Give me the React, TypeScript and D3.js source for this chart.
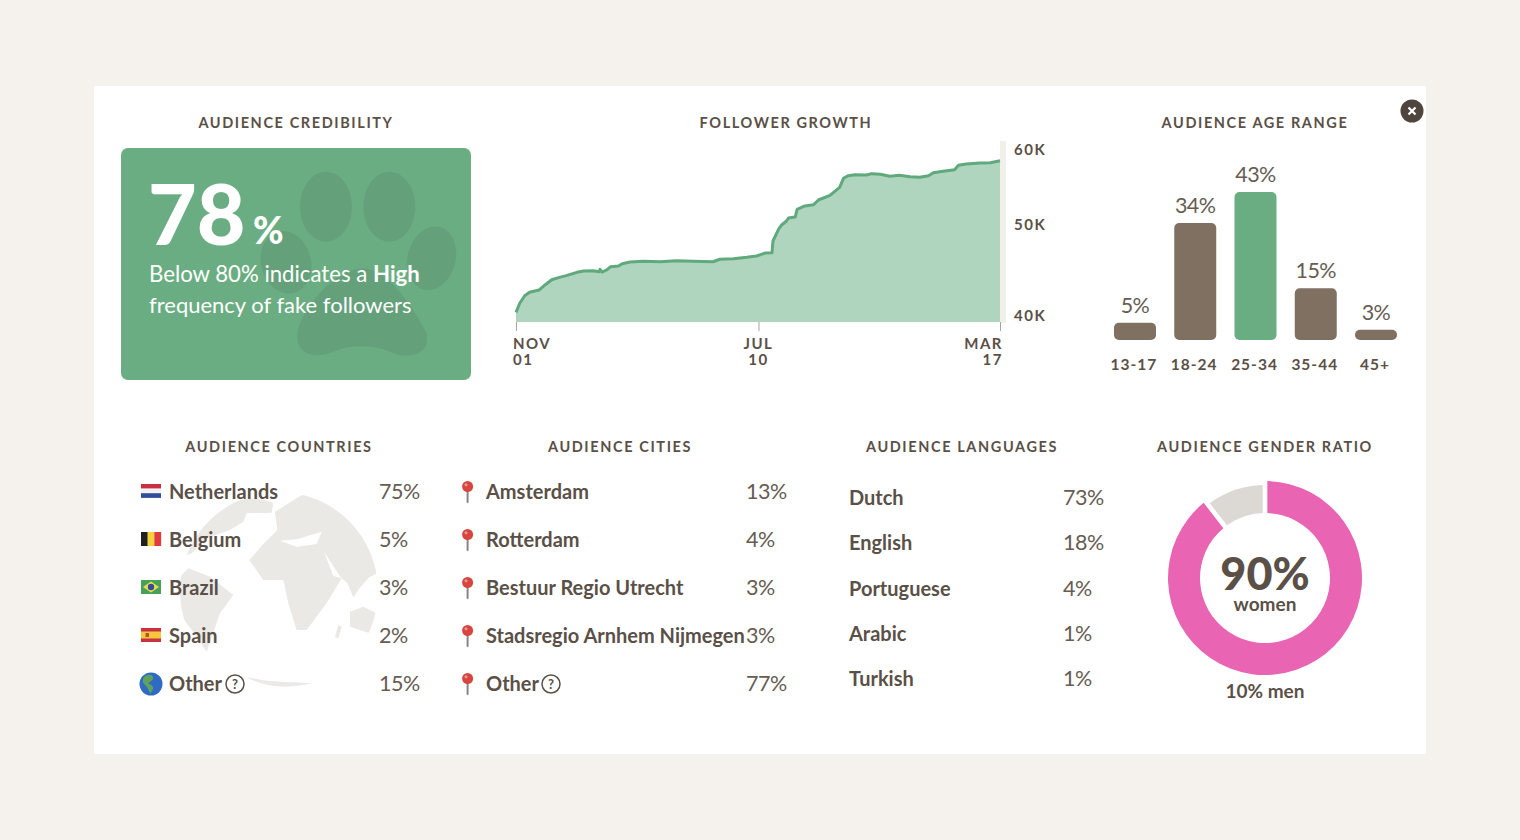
import { useEffect, useRef } from 'react';
import * as d3 from 'd3';

const FONT = 'Lato, "Open Sans", sans-serif';
const INK = '#5a5047';
const GREEN = '#6bad82';
const TAUPE = '#7f7061';
const PINK = '#e964b2';

// follower growth, days since Nov 01 / followers
const growthDays = [0, 4, 9, 14, 24, 30, 37, 44, 52, 63, 70, 80, 86, 87, 89, 94, 98, 106, 110, 118, 132, 149, 166, 184, 204, 211, 225, 239, 249, 258, 265, 266, 272, 275, 280, 282, 289, 291, 299, 308, 313, 325, 335, 339, 344, 351, 363, 368, 377, 387, 397, 408, 418, 427, 432, 442, 454, 458, 466, 480, 491, 501];
const growthValues = [41070, 42100, 42900, 43280, 43540, 44090, 44670, 44900, 45120, 45490, 45640, 45670, 45560, 45820, 45520, 45750, 46110, 46190, 46440, 46630, 46710, 46660, 46770, 46710, 46660, 46930, 46990, 47150, 47290, 47620, 47660, 48950, 50280, 50720, 51160, 51490, 51600, 52450, 52820, 52960, 53480, 54000, 54880, 55880, 56170, 56280, 56240, 56390, 56320, 56100, 56210, 56060, 55990, 56170, 56500, 56650, 56830, 57320, 57460, 57570, 57600, 57820];
const growthTickDays = [0, 251, 501];
const growthTickMonths = ['NOV', 'JUL', 'MAR'];
const growthTickDates = ['01', '10', '17'];
const growthAxisValues = [60000, 50000, 40000];

const ageGroups = ['13-17', '18-24', '25-34', '35-44', '45+'];
const ageShares = [5, 34, 43, 15, 3];

const countryNames = ['Netherlands', 'Belgium', 'Brazil', 'Spain', 'Other'];
const countryShares = [75, 5, 3, 2, 15];
const cityNames = ['Amsterdam', 'Rotterdam', 'Bestuur Regio Utrecht', 'Stadsregio Arnhem Nijmegen', 'Other'];
const cityShares = [13, 4, 3, 3, 77];
const languageNames = ['Dutch', 'English', 'Portuguese', 'Arabic', 'Turkish'];
const languageShares = [73, 18, 4, 1, 1];
const genderShares = [90, 10];

type G = d3.Selection<SVGGElement, unknown, null, undefined>;

function label(g: G, x: number, y: number, text: string, size: number, weight: number, fill = INK, anchor = 'start', spacing = 0) {
  return g.append('text')
    .attr('x', x).attr('y', y)
    .attr('font-size', size).attr('font-weight', weight)
    .attr('fill', fill).attr('text-anchor', anchor)
    .attr('letter-spacing', spacing)
    .text(text);
}

function heading(g: G, x: number, y: number, text: string) {
  label(g, x, y, text, 14.5, 700, INK, 'middle', 1.6);
}

function percent(g: G, x: number, y: number, value: number, anchor = 'start') {
  label(g, x, y, `${value}%`, 21.5, 400, '#665c52', anchor, -0.5);
}

function helpIcon(g: G, x: number, y: number) {
  g.append('circle').attr('cx', x).attr('cy', y).attr('r', 9).attr('fill', 'none').attr('stroke', INK).attr('stroke-width', 1.5);
  label(g, x, y + 4.5, '?', 13, 700, INK, 'middle');
}

function drawFlag(g: G, name: string, y: number) {
  const x = 141;
  const top = y - 8;
  const f = g.append('g');
  if (name === 'Netherlands') {
    ['#c8313e', '#f4f2f2', '#2f4f98'].forEach((c, i) => f.append('rect').attr('x', x).attr('y', top + i * 4.6).attr('width', 20).attr('height', 4.7).attr('fill', c));
  } else if (name === 'Belgium') {
    ['#22201f', '#f6d23c', '#e23b3f'].forEach((c, i) => f.append('rect').attr('x', x + i * 6.67).attr('y', top).attr('width', 6.8).attr('height', 14).attr('fill', c));
  } else if (name === 'Brazil') {
    f.append('rect').attr('x', x).attr('y', top).attr('width', 20).attr('height', 14).attr('fill', '#45a25a');
    f.append('path').attr('d', `M${x + 2},${top + 7}L${x + 10},${top + 1.5}L${x + 18},${top + 7}L${x + 10},${top + 12.5}Z`).attr('fill', '#f2d84e');
    f.append('circle').attr('cx', x + 10).attr('cy', top + 7).attr('r', 3.2).attr('fill', '#2f4f98');
  } else if (name === 'Spain') {
    f.append('rect').attr('x', x).attr('y', top).attr('width', 20).attr('height', 14).attr('fill', '#c8313e');
    f.append('rect').attr('x', x).attr('y', top + 3.5).attr('width', 20).attr('height', 7).attr('fill', '#f5c83c');
    f.append('rect').attr('x', x + 4.5).attr('y', top + 5).attr('width', 3.5).attr('height', 4).attr('fill', '#b5533a');
  } else {
    f.append('circle').attr('cx', x + 10).attr('cy', y).attr('r', 11.5).attr('fill', '#2f6bc4');
    f.append('path').attr('d', `M${x + 3},${y - 7}C${x + 8},${y - 11} ${x + 13},${y - 9} ${x + 12},${y - 5}C${x + 10},${y - 2} ${x + 8},${y - 2} ${x + 7},${y - 1}C${x + 10},${y + 1} ${x + 13},${y + 2} ${x + 12},${y + 5}C${x + 11},${y + 8} ${x + 9},${y + 9} ${x + 9},${y + 9}C${x + 7},${y + 5} ${x + 6},${y + 2} ${x + 3},${y}C${x + 1},${y - 3} ${x + 2},${y - 5} ${x + 3},${y - 7}Z`).attr('fill', '#5fa35a');
  }
}

function drawPin(g: G, y: number) {
  g.append('rect').attr('x', 466.6).attr('y', y - 3).attr('width', 2).attr('height', 14).attr('rx', 1).attr('fill', '#8a8580');
  g.append('circle').attr('cx', 467.6).attr('cy', y - 5.5).attr('r', 5.5).attr('fill', '#d6453f');
  g.append('circle').attr('cx', 466).attr('cy', y - 7.2).attr('r', 1.6).attr('fill', '#ee8f88');
}

export default function App() {
  const svgRef = useRef<SVGSVGElement>(null);

  useEffect(() => {
    if (!svgRef.current) return;
    const svg = d3.select(svgRef.current);
    svg.selectAll('*').remove();
    const root = svg.append('g').attr('font-family', FONT) as unknown as G;

    root.append('rect').attr('width', 1520).attr('height', 840).attr('fill', '#f5f1ed');
    root.append('rect').attr('x', 94).attr('y', 86).attr('width', 1332).attr('height', 668).attr('fill', '#fff');

    // Close button
    root.append('circle').attr('cx', 1412).attr('cy', 111).attr('r', 11.5).attr('fill', '#4f453c');
    root.append('path').attr('d', 'M1408.5,107.5L1415.5,114.5M1415.5,107.5L1408.5,114.5').attr('stroke', '#fff').attr('stroke-width', 2.2);

    // Credibility card
    heading(root, 296, 128, 'AUDIENCE CREDIBILITY');
    root.append('rect').attr('x', 121).attr('y', 148).attr('width', 350).attr('height', 232).attr('rx', 7).attr('fill', GREEN);
    const paw = root.append('g').attr('transform', 'translate(120,140) scale(0.3333)').attr('fill', '#64a17b');
    paw.append('ellipse').attr('cx', 618).attr('cy', 200).attr('rx', 78).attr('ry', 105);
    paw.append('ellipse').attr('cx', 808).attr('cy', 200).attr('rx', 78).attr('ry', 105);
    paw.append('ellipse').attr('rx', 72).attr('ry', 97).attr('transform', 'translate(935,355) rotate(15)');
    paw.append('ellipse').attr('rx', 75).attr('ry', 95).attr('transform', 'translate(498,367) rotate(-15)');
    paw.append('path').attr('d', 'M730,385C800,385 880,500 920,580C935,640 870,660 820,640C770,615 700,610 640,635C580,660 525,640 532,580C545,500 650,385 730,385Z');
    label(root, 148, 245, '78', 84, 900, '#fff');
    label(root, 253, 244, '%', 37, 900, '#fff');
    const line1 = label(root, 149, 282, 'Below 80% indicates a ', 22.2, 400, '#fff');
    line1.append('tspan').attr('font-weight', 700).text('High');
    label(root, 149, 313, 'frequency of fake followers', 22, 400, '#fff');

    // Follower growth
    heading(root, 786, 128, 'FOLLOWER GROWTH');
    const x = d3.scaleLinear().domain([0, 501]).range([516, 1000]);
    const y = d3.scaleLinear().domain([40000, 60000]).range([322, 141]);
    const points = growthDays.map((d, i) => [d, growthValues[i]] as [number, number]);
    root.append('rect').attr('x', 1000).attr('y', y(60000)).attr('width', 6).attr('height', y(40000) - y(60000) + 1).attr('fill', '#f3efeb');
    root.append('path')
      .attr('d', d3.area<[number, number]>().x(d => x(d[0])).y0(y(40000)).y1(d => y(d[1]))(points))
      .attr('fill', '#b0d5bf');
    root.append('path')
      .attr('d', d3.line<[number, number]>().x(d => x(d[0])).y(d => y(d[1]))(points))
      .attr('fill', 'none').attr('stroke', '#5fa97c').attr('stroke-width', 3).attr('stroke-linejoin', 'round');

    const xAxis = root.append('g').attr('transform', `translate(0,${y(40000)})`)
      .call(d3.axisBottom(x).tickValues(growthTickDays).tickSize(9).tickFormat(() => ''));
    xAxis.select('.domain').remove();
    xAxis.selectAll('.tick line').attr('stroke', '#a9a39c').attr('stroke-width', 1);
    growthTickDays.forEach((d, i) => {
      const anchor = i === 0 ? 'start' : i === 1 ? 'middle' : 'end';
      const px = x(d) + (i === 0 ? -3 : i === 2 ? 3 : 0);
      label(root, px, 349, growthTickMonths[i], 15, 700, INK, anchor, 1.5);
      label(root, px, 365, growthTickDates[i], 15, 700, INK, anchor, 1.5);
    });
    // the value labels sit off the linear scale in the source
    const yLabel = d3.scaleLinear().domain([40000, 50000, 60000]).range([321, 230, 155]);
    growthAxisValues.forEach(v => label(root, 1014, yLabel(v), `${v / 1000}K`, 15, 700, INK, 'start', 1.5));

    // Age range
    heading(root, 1255, 128, 'AUDIENCE AGE RANGE');
    const ageX = d3.scaleBand().domain(ageGroups).range([1114, 1397]).paddingInner(0.303);
    const ageY = d3.scaleLinear().domain([0, 43]).range([340, 192]);
    root.selectAll('.age-bar').data(ageGroups).join('rect')
      .attr('class', 'age-bar')
      .attr('x', d => ageX(d)!)
      .attr('y', (_, i) => ageY(ageShares[i]))
      .attr('width', ageX.bandwidth())
      .attr('height', (_, i) => ageY(0) - ageY(ageShares[i]))
      .attr('rx', 5)
      .attr('fill', (_, i) => ageShares[i] === d3.max(ageShares) ? GREEN : TAUPE);
    ageGroups.forEach((d, i) => {
      const cx = ageX(d)! + ageX.bandwidth() / 2;
      percent(root, cx, ageY(ageShares[i]) - 10, ageShares[i], 'middle');
      label(root, cx - 1, 370, d, 15.5, 700, INK, 'middle', 1);
    });

    // Globe behind the countries list
    const clip = svg.append('defs').append('clipPath').attr('id', 'globe-clip');
    clip.append('circle').attr('cx', 279).attr('cy', 591).attr('r', 99);
    const globe = root.append('g').attr('clip-path', 'url(#globe-clip)')
      .append('g').attr('transform', 'translate(120,470) scale(0.3333)').attr('fill', '#ebe9e6');
    globe.append('path').attr('d', 'M465,125L570,60L720,100L810,290L748,322L722,350L700,382L682,340L662,322L612,245L640,318L665,325L620,400L560,480L530,480L505,400L490,330L430,330L388,270L430,222L472,180Z');
    globe.append('path').attr('d', 'M230,160C300,90 400,70 460,100L455,128L380,130L370,155L330,180L260,205L215,250L185,260L190,200Z');
    globe.append('path').attr('d', 'M205,295L270,320L340,375L300,430L260,545L215,480L170,420L170,330Z');
    globe.append('path').attr('d', 'M690,425L730,410L770,430L750,490L690,470Z');
    globe.append('path').attr('d', 'M380,620C450,640 520,635 575,640C520,655 430,655 380,620Z');
    globe.append('path').attr('d', 'M655,465L665,470L655,505L645,500Z');
    globe.append('path').attr('d', 'M480,212L530,208L605,185L590,222L530,230Z').attr('fill', '#fff');

    // Lists
    const rowY = d3.scalePoint<string>().domain(countryNames).range([492, 684]);
    heading(root, 279, 452, 'AUDIENCE COUNTRIES');
    countryNames.forEach((d, i) => {
      const cy = rowY(d)!;
      drawFlag(root, d, cy);
      label(root, 169, cy + 7, d, 20, 700);
      percent(root, 379, cy + 7, countryShares[i]);
    });
    helpIcon(root, 235, 684);

    const cityY = d3.scalePoint<string>().domain(cityNames).range([492, 684]);
    heading(root, 620, 452, 'AUDIENCE CITIES');
    cityNames.forEach((d, i) => {
      const cy = cityY(d)!;
      drawPin(root, cy);
      label(root, 486, cy + 7, d, 20, 700);
      percent(root, 746, cy + 7, cityShares[i]);
    });
    helpIcon(root, 551, 684);

    const languageY = d3.scalePoint<string>().domain(languageNames).range([498, 679]);
    heading(root, 962, 452, 'AUDIENCE LANGUAGES');
    languageNames.forEach((d, i) => {
      const cy = languageY(d)!;
      label(root, 849, cy + 7, d, 20, 700);
      percent(root, 1063, cy + 7, languageShares[i]);
    });

    // Gender donut
    heading(root, 1265, 452, 'AUDIENCE GENDER RATIO');
    const pie = d3.pie<number>().sort(null).padAngle(0.04).value(d => d)(genderShares);
    const donut = root.append('g').attr('transform', 'translate(1265,578)');
    donut.selectAll('path').data(pie).join('path')
      .attr('d', (d, i) => d3.arc<d3.PieArcDatum<number>>().innerRadius(65).outerRadius(i === 0 ? 97 : 93)(d))
      .attr('fill', (_, i) => i === 0 ? PINK : '#dcd9d5');
    label(root, 1265, 590, `${genderShares[0]}%`, 45, 900, INK, 'middle');
    label(root, 1265, 611, 'women', 19, 700, INK, 'middle');
    label(root, 1265, 698, `${genderShares[1]}% men`, 19, 700, INK, 'middle');
  }, []);

  return (
    <svg
      ref={svgRef}
      width={1520}
      height={840}
      style={{ position: 'absolute', top: 0, left: 0 }}
    />
  );
}
